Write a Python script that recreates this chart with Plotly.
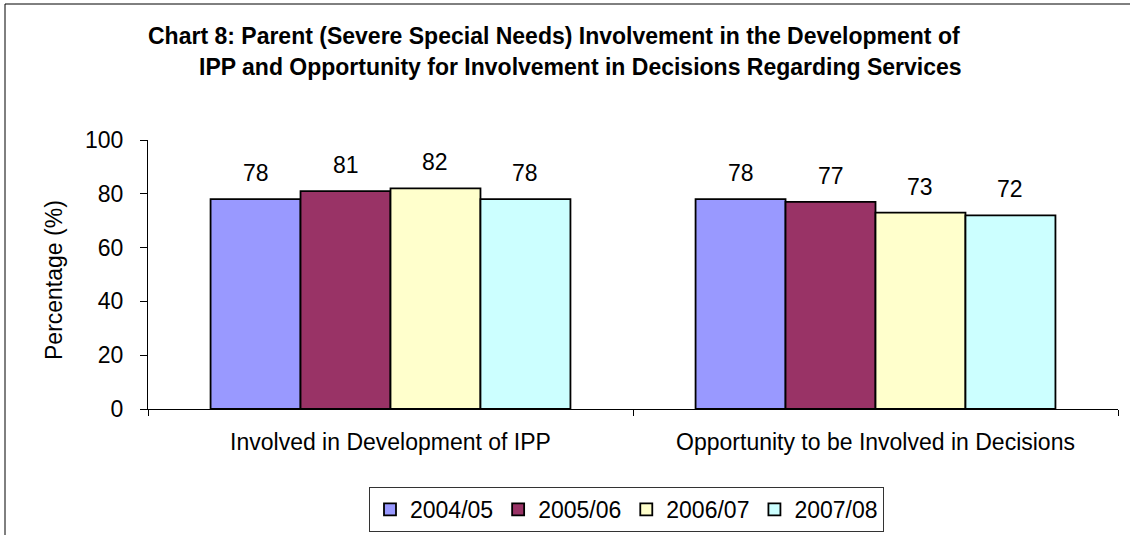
import plotly.graph_objects as go

categories = ["Involved in Development of IPP", "Opportunity to be Involved in Decisions"]
years = ["2004/05", "2005/06", "2006/07", "2007/08"]
v_2004_05 = [78, 78]
v_2005_06 = [81, 77]
v_2006_07 = [82, 73]
v_2007_08 = [78, 72]
series_values = [v_2004_05, v_2005_06, v_2006_07, v_2007_08]
colors = ["#9999FF", "#993366", "#FFFFCC", "#CCFFFF"]
y_ticks = [0, 20, 40, 60, 80, 100]
title_line1 = "Chart 8: Parent (Severe Special Needs) Involvement in the Development of"
title_line2 = "IPP and Opportunity for Involvement in Decisions Regarding Services"
y_title = "Percentage (%)"

FONT = "Liberation Sans, Arial, sans-serif"
W, H = 1130, 535
ML, MR, MT, MB = 148, 12, 140, 126
PW = W - ML - MR
PH = H - MT - MB
BARGAP = 0.258

fig = go.Figure()
for name, vals, col in zip(years, series_values, colors):
    fig.add_trace(go.Bar(
        x=categories, y=vals, name=name,
        marker=dict(color=col, line=dict(color="black", width=1.8)),
        hoverinfo="x+y+name",
    ))

# data labels above each bar
cat_px = PW / len(categories)
bar_px = cat_px * (1 - BARGAP) / len(years)
annotations = []
for i, vals in enumerate(series_values):
    for j, v in enumerate(vals):
        annotations.append(dict(
            x=categories[j], y=v, xref="x", yref="y", text=str(v), showarrow=False,
            xshift=(i - (len(years) - 1) / 2) * bar_px, yshift=11, yanchor="bottom",
            font=dict(family=FONT, size=23, color="black"),
        ))

def px_x(p):
    return (p - ML) / PW

def px_y(p):
    return (H - MB - p) / PH

annotations.append(dict(
    x=px_x(146), y=px_y(36), xref="paper", yref="paper", xanchor="left", yanchor="middle",
    text="<b>" + title_line1 + "</b>", showarrow=False,
    font=dict(family=FONT, size=23, color="black"),
))
annotations.append(dict(
    x=px_x(197), y=px_y(67), xref="paper", yref="paper", xanchor="left", yanchor="middle",
    text="<b>" + title_line2 + "</b>", showarrow=False,
    font=dict(family=FONT, size=23, color="black"),
))
annotations.append(dict(
    x=px_x(54), y=px_y(280), xref="paper", yref="paper", xanchor="center", yanchor="middle",
    text=y_title, textangle=-90, showarrow=False,
    font=dict(family=FONT, size=23, color="black"),
))

fig.update_layout(
    width=W, height=H,
    margin=dict(l=ML, r=MR, t=MT, b=MB, autoexpand=False),
    paper_bgcolor="white", plot_bgcolor="white",
    barmode="group", bargap=BARGAP, bargroupgap=0,
    font=dict(family=FONT, size=23, color="black"),
    showlegend=True,
    legend=dict(
        orientation="h", x=px_x(369), y=px_y(487), xanchor="left", yanchor="top",
        bordercolor="#333333", borderwidth=1, bgcolor="white",
        font=dict(family=FONT, size=23, color="black"),
        traceorder="normal",
    ),
    annotations=annotations,
    shapes=[dict(
        type="rect", xref="paper", yref="paper",
        x0=px_x(5), x1=px_x(1200), y0=px_y(600), y1=px_y(4),
        line=dict(color="black", width=1), fillcolor="rgba(0,0,0,0)", layer="below",
    )],
    xaxis=dict(
        type="category", showline=True, linecolor="black", linewidth=1,
        ticks="outside", tickson="boundaries", ticklen=6, tickcolor="black", tickwidth=1,
        showgrid=False, zeroline=False, ticklabelstandoff=12,
        tickfont=dict(family=FONT, size=23, color="black"),
    ),
    yaxis=dict(
        range=[0, 100], tickvals=y_ticks, showline=True, linecolor="black", linewidth=1,
        ticks="outside", ticklen=7, tickcolor="black", tickwidth=1,
        showgrid=False, zeroline=False, ticklabelstandoff=12,
        tickfont=dict(family=FONT, size=23, color="black"),
    ),
)

fig.write_html("out.html", config={"displayModeBar": False})

# remove the browser's default page margin so the figure sits at (0, 0)
with open("out.html", "r", encoding="utf-8") as f:
    html = f.read()
html = html.replace("<head>", "<head><style>html,body{margin:0;padding:0;overflow:hidden;}</style>", 1)
with open("out.html", "w", encoding="utf-8") as f:
    f.write(html)
